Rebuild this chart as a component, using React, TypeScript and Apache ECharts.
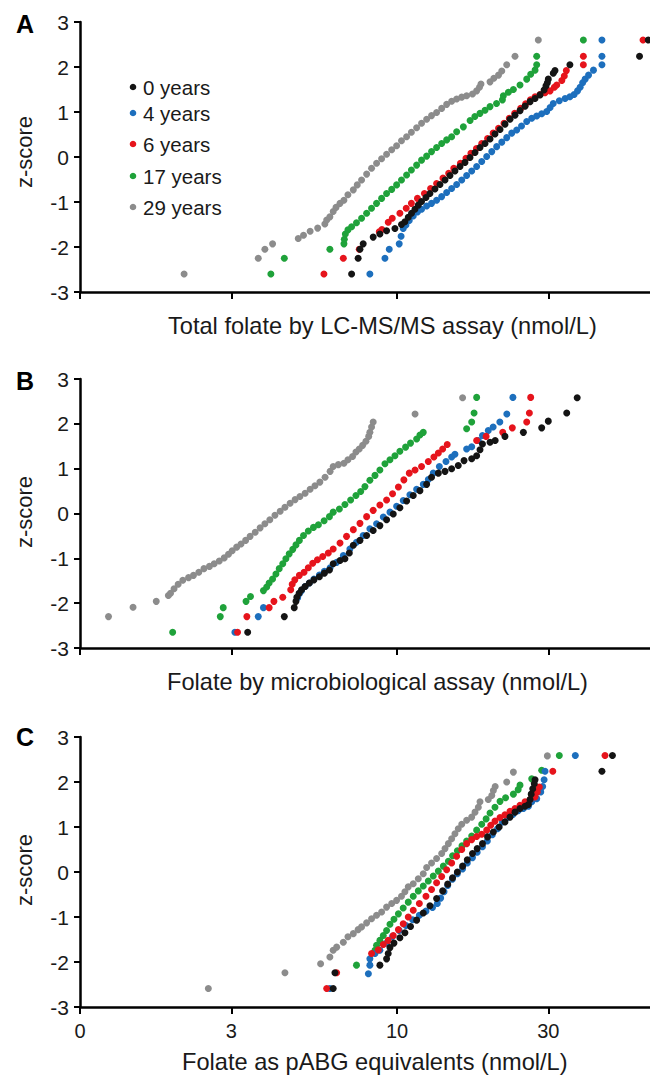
import React, { useEffect, useRef } from "react";
import * as echarts from "echarts";

type Pt = [number, number]; // [folate nmol/L, z-score]

const AGE_NAMES = ["0 years", "4 years", "6 years", "17 years", "29 years"];
const AGE_COLORS = ["#141414", "#1d6fbd", "#e6141c", "#1fa23a", "#8c8c8c"];
const X_TICKS = [1, 3, 10, 30];
const X_TICK_LABELS = ["0", "3", "10", "30"];
const X_MAX = 62.8;
const PANEL_LETTERS = ["A", "B", "C"];
const X_TITLES = [
  "Total folate by LC-MS/MS assay (nmol/L)",
  "Folate by microbiological assay (nmol/L)",
  "Folate as pABG equivalents (nmol/L)",
];
const Y_TITLE = "z-score";

// Panel A – LC-MS/MS
const A_0y: Pt[] = [[7.19,-2.6],[7.54,-2.25],[7.64,-2.05],[7.82,-1.93],[8.41,-1.78],[8.83,-1.71],[9.27,-1.64],[9.85,-1.59],[10.33,-1.5],[10.59,-1.44],[10.85,-1.34],[11.11,-1.25],[11.39,-1.16],[11.67,-1.07],[11.95,-0.99],[12.34,-0.9],[12.7,-0.81],[13.17,-0.71],[13.66,-0.61],[14.17,-0.51],[14.69,-0.41],[15.23,-0.31],[15.8,-0.21],[16.38,-0.12],[16.99,-0.01],[17.62,0.1],[18.27,0.21],[18.95,0.3],[19.65,0.4],[20.37,0.51],[21.13,0.61],[21.91,0.73],[22.72,0.84],[23.56,0.93],[24.43,1.03],[25.34,1.13],[26.28,1.23],[27.25,1.3],[28.26,1.38],[29.1,1.49],[29.5,1.58],[29.8,1.65],[30.0,1.73],[31.1,1.86],[31.5,1.92],[35.1,2.05],[58.2,2.24],[62.0,2.6]];
const A_4y: Pt[] = [[8.21,-2.6],[9.16,-2.25],[9.45,-2.05],[10.16,-1.93],[10.3,-1.76],[10.46,-1.59],[10.67,-1.51],[10.93,-1.41],[11.25,-1.31],[11.6,-1.22],[11.95,-1.16],[12.4,-1.09],[12.85,-1.03],[13.33,-0.96],[13.83,-0.88],[14.34,-0.79],[14.87,-0.7],[15.42,-0.61],[16.0,-0.51],[16.58,-0.41],[17.2,-0.31],[17.83,-0.21],[18.5,-0.1],[19.18,0.01],[19.9,0.12],[20.62,0.23],[21.4,0.33],[22.18,0.43],[23.0,0.53],[23.85,0.6],[24.7,0.69],[25.65,0.79],[26.6,0.86],[27.58,0.91],[28.6,0.96],[29.66,1.01],[30.4,1.1],[31.1,1.19],[32.5,1.25],[33.9,1.3],[35.1,1.34],[36.2,1.39],[37.1,1.47],[37.8,1.55],[38.5,1.65],[39.2,1.73],[40.2,1.82],[41.65,1.93],[44.3,2.05],[44.3,2.24],[44.3,2.6]];
const A_6y: Pt[] = [[5.88,-2.6],[6.77,-2.25],[7.6,-2.05],[8.79,-1.66],[8.96,-1.61],[9.38,-1.45],[9.66,-1.36],[10.21,-1.25],[10.69,-1.14],[11.1,-1.03],[11.6,-0.92],[12.2,-0.81],[12.76,-0.7],[13.33,-0.59],[13.96,-0.47],[14.55,-0.36],[15.1,-0.25],[15.85,-0.14],[16.5,-0.03],[17.1,0.08],[17.8,0.19],[18.5,0.3],[19.3,0.41],[20.1,0.53],[20.9,0.64],[21.75,0.75],[22.6,0.86],[23.5,0.97],[24.55,1.08],[25.45,1.18],[26.35,1.27],[27.25,1.34],[28.26,1.39],[29.3,1.43],[30.4,1.47],[31.35,1.55],[31.9,1.6],[33.1,1.7],[33.7,1.8],[34.2,1.92],[38.7,2.05],[38.7,2.24],[59.7,2.6]];
const A_17y: Pt[] = [[4.0,-2.6],[4.41,-2.25],[6.14,-2.05],[6.8,-1.93],[6.82,-1.83],[6.87,-1.71],[7.0,-1.62],[7.19,-1.55],[7.45,-1.46],[7.73,-1.36],[8.02,-1.25],[8.31,-1.14],[8.62,-1.03],[8.94,-0.92],[9.27,-0.81],[9.62,-0.72],[9.97,-0.62],[10.33,-0.51],[10.72,-0.4],[11.1,-0.29],[11.53,-0.18],[11.95,-0.07],[12.4,0.02],[12.85,0.12],[13.33,0.21],[13.83,0.3],[14.34,0.38],[14.87,0.45],[15.42,0.56],[16.19,0.67],[17.0,0.81],[17.6,0.9],[18.27,0.97],[18.95,1.04],[19.65,1.12],[20.6,1.19],[21.5,1.27],[21.65,1.36],[22.45,1.44],[23.28,1.5],[24.43,1.6],[25.65,1.73],[26.4,1.84],[27.25,1.93],[27.58,2.05],[27.58,2.24],[38.7,2.6]];
const A_29y: Pt[] = [[2.13,-2.6],[3.65,-2.25],[3.83,-2.05],[4.05,-1.93],[4.88,-1.81],[5.07,-1.74],[5.32,-1.65],[5.62,-1.58],[5.92,-1.49],[6.0,-1.4],[6.14,-1.33],[6.29,-1.21],[6.42,-1.12],[6.61,-1.03],[6.8,-0.96],[7.0,-0.84],[7.28,-0.73],[7.49,-0.62],[7.73,-0.51],[8.02,-0.38],[8.31,-0.25],[8.62,-0.14],[8.94,-0.04],[9.27,0.06],[9.62,0.16],[9.97,0.25],[10.33,0.36],[10.72,0.45],[11.1,0.55],[11.53,0.65],[11.95,0.75],[12.4,0.84],[12.85,0.92],[13.33,0.99],[13.83,1.08],[14.34,1.17],[14.87,1.24],[15.42,1.29],[16.0,1.33],[16.58,1.36],[17.3,1.4],[17.83,1.47],[18.2,1.55],[18.4,1.62],[19.65,1.67],[20.2,1.75],[20.9,1.82],[21.4,1.91],[22.18,2.05],[23.56,2.24],[27.9,2.6]];

// Panel B – microbiological assay
const B_0y: Pt[] = [[3.38,-2.65],[4.41,-2.3],[4.74,-2.1],[4.8,-1.96],[4.83,-1.87],[4.91,-1.78],[5.0,-1.7],[5.13,-1.63],[5.29,-1.55],[5.47,-1.48],[5.69,-1.41],[5.9,-1.33],[6.12,-1.26],[6.29,-1.12],[6.61,-1.05],[6.85,-1.01],[7.07,-0.88],[7.28,-0.71],[7.64,-0.6],[8.02,-0.49],[8.41,-0.38],[8.83,-0.27],[9.27,-0.14],[9.73,-0.01],[10.21,0.13],[10.72,0.28],[11.25,0.4],[11.81,0.51],[12.4,0.65],[12.85,0.81],[13.5,0.9],[14.17,0.94],[14.87,1.0],[15.6,1.07],[16.27,1.18],[17.2,1.22],[17.83,1.29],[18.27,1.42],[18.6,1.55],[19.65,1.59],[20.4,1.63],[21.9,1.72],[25.03,1.81],[28.6,1.91],[30.0,2.06],[34.3,2.24],[37.0,2.58]];
const B_4y: Pt[] = [[3.08,-2.65],[3.65,-2.3],[3.79,-2.1],[4.86,-1.88],[4.92,-1.79],[5.0,-1.72],[5.13,-1.63],[5.29,-1.55],[5.47,-1.46],[5.69,-1.37],[5.9,-1.29],[6.15,-1.21],[6.45,-1.09],[6.77,-0.94],[7.1,-0.79],[7.45,-0.64],[7.82,-0.49],[8.21,-0.34],[8.62,-0.23],[9.05,-0.08],[9.5,0.03],[9.97,0.16],[10.46,0.29],[10.98,0.42],[11.53,0.54],[12.1,0.65],[12.55,0.76],[13.01,0.9],[13.6,1.05],[14.27,1.16],[14.87,1.26],[15.23,1.32],[16.58,1.44],[17.2,1.49],[18.05,1.63],[18.6,1.74],[19.4,1.85],[20.1,1.93],[21.1,2.04],[22.2,2.22],[23.2,2.59]];
const B_6y: Pt[] = [[3.14,-2.65],[3.36,-2.3],[3.95,-2.1],[4.09,-1.96],[4.36,-1.87],[4.62,-1.7],[4.67,-1.58],[4.76,-1.48],[4.92,-1.38],[5.09,-1.31],[5.25,-1.21],[5.42,-1.11],[5.61,-1.03],[5.83,-0.96],[6.07,-0.88],[6.29,-0.79],[6.61,-0.66],[6.93,-0.51],[7.28,-0.36],[7.64,-0.22],[8.02,-0.07],[8.41,0.07],[8.83,0.19],[9.27,0.3],[9.68,0.44],[10.1,0.59],[10.51,0.75],[10.93,0.9],[11.4,0.97],[11.95,1.05],[12.55,1.16],[13.07,1.26],[13.5,1.35],[13.93,1.44],[14.4,1.54],[17.83,1.63],[19.1,1.72],[21.55,1.81],[23.1,1.91],[25.65,2.04],[26.15,2.24],[26.4,2.59]];
const B_17y: Pt[] = [[1.96,-2.65],[2.77,-2.3],[2.83,-2.1],[3.34,-1.96],[3.45,-1.85],[3.79,-1.72],[3.88,-1.64],[3.95,-1.55],[4.05,-1.46],[4.15,-1.35],[4.25,-1.23],[4.36,-1.12],[4.46,-1.01],[4.57,-0.9],[4.69,-0.8],[4.8,-0.7],[4.92,-0.6],[5.07,-0.49],[5.25,-0.39],[5.45,-0.31],[5.65,-0.25],[5.89,-0.16],[6.12,-0.07],[6.29,0.03],[6.58,0.1],[6.85,0.2],[7.14,0.3],[7.42,0.4],[7.68,0.49],[7.92,0.6],[8.21,0.74],[8.52,0.85],[8.83,0.97],[9.16,1.11],[9.5,1.2],[9.85,1.29],[10.21,1.39],[10.64,1.48],[11.03,1.57],[11.53,1.66],[11.81,1.75],[12.1,1.81],[16.58,1.89],[17.2,2.04],[17.5,2.24],[17.83,2.59]];
const B_29y: Pt[] = [[1.23,-2.3],[1.47,-2.09],[1.74,-1.96],[1.9,-1.83],[1.93,-1.78],[1.98,-1.68],[2.04,-1.58],[2.11,-1.49],[2.2,-1.43],[2.28,-1.38],[2.37,-1.31],[2.46,-1.23],[2.56,-1.18],[2.65,-1.12],[2.75,-1.06],[2.85,-0.99],[2.94,-0.91],[3.02,-0.83],[3.12,-0.75],[3.22,-0.68],[3.33,-0.6],[3.44,-0.51],[3.57,-0.42],[3.7,-0.32],[3.83,-0.23],[3.97,-0.14],[4.12,-0.04],[4.28,0.05],[4.43,0.14],[4.6,0.23],[4.77,0.31],[4.94,0.38],[5.13,0.45],[5.32,0.54],[5.51,0.62],[5.71,0.7],[5.93,0.81],[6.15,0.94],[6.29,1.05],[6.53,1.09],[6.8,1.12],[7.0,1.2],[7.24,1.27],[7.42,1.37],[7.6,1.44],[7.79,1.52],[7.98,1.61],[8.14,1.72],[8.21,1.81],[8.31,1.93],[8.41,2.04],[11.4,2.22],[16.1,2.58]];

// Panel C – pABG equivalents
const C_0y: Pt[] = [[6.29,-2.59],[6.37,-2.24],[8.83,-2.07],[9.27,-1.93],[9.38,-1.81],[9.5,-1.68],[9.78,-1.58],[10.21,-1.46],[10.59,-1.35],[11.03,-1.21],[11.53,-1.07],[12.1,-0.91],[12.7,-0.75],[13.33,-0.59],[13.93,-0.42],[14.45,-0.27],[14.97,-0.13],[15.5,0.0],[16.1,0.13],[16.66,0.27],[17.3,0.41],[17.9,0.52],[18.6,0.63],[19.3,0.78],[20.13,0.89],[21.0,1.0],[21.9,1.11],[22.72,1.22],[23.56,1.33],[24.43,1.41],[25.34,1.46],[25.97,1.5],[26.28,1.61],[26.5,1.73],[26.8,1.85],[27.1,1.96],[27.25,2.05],[44.3,2.24],[47.8,2.59]];
const C_4y: Pt[] = [[6.14,-2.59],[8.12,-2.26],[8.21,-2.07],[8.21,-1.93],[8.52,-1.81],[8.83,-1.74],[9.27,-1.58],[9.68,-1.43],[10.16,-1.3],[10.67,-1.19],[11.2,-1.06],[11.76,-0.96],[12.34,-0.87],[12.94,-0.79],[13.4,-0.7],[13.73,-0.58],[14.07,-0.44],[14.45,-0.3],[14.95,-0.16],[15.5,-0.04],[16.1,0.07],[16.66,0.2],[17.3,0.32],[17.9,0.44],[18.6,0.56],[19.27,0.69],[19.98,0.83],[20.75,0.96],[21.5,1.11],[22.3,1.21],[23.2,1.28],[24.1,1.36],[25.03,1.41],[25.97,1.46],[26.6,1.56],[27.58,1.63],[28.4,1.78],[28.8,1.9],[29.1,2.05],[29.3,2.24],[36.5,2.59]];
const C_6y: Pt[] = [[6.0,-2.59],[6.45,-2.24],[8.31,-1.81],[8.73,-1.73],[9.05,-1.61],[9.38,-1.52],[9.73,-1.41],[10.1,-1.28],[10.46,-1.15],[10.85,-1.0],[11.25,-0.85],[11.76,-0.7],[12.34,-0.54],[12.85,-0.39],[13.33,-0.24],[13.83,-0.1],[14.34,0.05],[14.87,0.2],[15.42,0.35],[16.0,0.5],[16.58,0.63],[17.2,0.72],[17.83,0.79],[18.5,0.84],[19.18,0.93],[19.75,1.04],[20.37,1.13],[21.13,1.21],[21.9,1.27],[22.72,1.35],[23.56,1.41],[24.43,1.48],[25.34,1.56],[26.28,1.61],[27.25,1.67],[27.7,1.78],[28.1,1.89],[31.0,2.24],[45.3,2.59]];
const C_17y: Pt[] = [[7.45,-2.07],[8.52,-1.74],[8.62,-1.63],[8.83,-1.52],[9.05,-1.41],[9.27,-1.3],[9.5,-1.16],[9.78,-1.05],[10.1,-0.93],[10.46,-0.8],[10.85,-0.67],[11.25,-0.54],[11.67,-0.42],[12.1,-0.31],[12.55,-0.2],[13.01,-0.09],[13.5,0.02],[14.0,0.13],[14.52,0.24],[14.97,0.36],[15.5,0.47],[16.03,0.58],[16.58,0.69],[17.2,0.8],[17.83,0.93],[18.5,1.06],[19.1,1.18],[19.65,1.31],[20.37,1.44],[21.13,1.57],[22.0,1.65],[23.28,1.73],[24.1,1.83],[24.43,1.93],[26.6,2.07],[28.6,2.26],[32.5,2.59]];
const C_29y: Pt[] = [[2.54,-2.59],[4.43,-2.24],[5.74,-2.04],[6.14,-1.89],[6.29,-1.74],[6.45,-1.67],[6.77,-1.56],[7.0,-1.44],[7.28,-1.37],[7.54,-1.28],[7.73,-1.22],[8.02,-1.13],[8.31,-1.04],[8.62,-0.96],[8.94,-0.89],[9.27,-0.78],[9.62,-0.7],[9.97,-0.63],[10.33,-0.54],[10.59,-0.44],[10.85,-0.33],[11.25,-0.26],[11.67,-0.15],[12.1,-0.04],[12.4,0.1],[12.85,0.2],[13.33,0.3],[13.83,0.41],[14.17,0.52],[14.52,0.63],[14.87,0.74],[15.23,0.85],[15.6,0.96],[16.0,1.06],[16.58,1.15],[17.2,1.22],[17.62,1.33],[18.05,1.44],[18.27,1.56],[19.4,1.61],[19.9,1.7],[20.13,1.81],[20.4,1.9],[22.18,2.0],[23.28,2.22],[29.8,2.58]];

const PANELS: Pt[][][] = [
  [A_0y, A_4y, A_6y, A_17y, A_29y],
  [B_0y, B_4y, B_6y, B_17y, B_29y],
  [C_0y, C_4y, C_6y, C_17y, C_29y],
];

const FONT = "'Liberation Sans', Arial, Helvetica, sans-serif";
const TEXT = "#1a1a1a";

export default function App() {
  const ref = useRef<HTMLDivElement>(null);

  useEffect(() => {
    if (!ref.current) return;
    const chart = echarts.init(ref.current, undefined, { renderer: "svg" });

    const grids = [
      { left: 80, top: 22, width: 570, height: 270 },
      { left: 80, top: 379, width: 570, height: 269 },
      { left: 80, top: 737, width: 570, height: 270 },
    ];
    const logTicks = X_TICKS.map((t) => Math.log10(t));
    const fmtX = (v: number) => {
      const i = logTicks.findIndex((t) => Math.abs(t - v) < 1e-6);
      return i >= 0 ? X_TICK_LABELS[i] : "";
    };

    const xAxis = grids.map((_, i) => ({
      gridIndex: i,
      type: "value",
      min: 0,
      max: Math.log10(X_MAX),
      axisLine: { show: true, onZero: false, lineStyle: { color: "#000", width: 2.5 } },
      axisTick: {
        show: true,
        inside: false,
        length: 7,
        customValues: logTicks,
        lineStyle: { color: "#000", width: 2 },
      },
      axisLabel: {
        show: i === 2,
        customValues: logTicks,
        formatter: fmtX,
        fontSize: 20,
        color: TEXT,
        fontFamily: FONT,
        margin: 14,
      },
      splitLine: { show: false },
    }));

    const yAxis = grids.map((_, i) => ({
      gridIndex: i,
      type: "value",
      min: -3,
      max: 3,
      interval: 1,
      axisLine: { show: true, onZero: false, lineStyle: { color: "#000", width: 2.5 } },
      axisTick: { show: true, length: 6, lineStyle: { color: "#000", width: 2 } },
      axisLabel: { fontSize: 21, color: TEXT, fontFamily: FONT, margin: 11 },
      splitLine: { show: false },
    }));

    const drawOrder = [4, 3, 1, 2, 0];
    const series: any[] = [];
    PANELS.forEach((panel, p) => {
      drawOrder.forEach((k) => {
        series.push({
          type: "scatter",
          name: AGE_NAMES[k],
          xAxisIndex: p,
          yAxisIndex: p,
          symbol: "circle",
          symbolSize: 7,
          clip: false,
          itemStyle: { color: AGE_COLORS[k], opacity: 1 },
          data: panel[k].map(([v, z]) => [Math.log10(v), z]),
        });
      });
    });

    const letterY = [24, 381, 737];
    const yTitleY = [152, 512, 870];
    const xTitles = [
      { x: 168, y: 326 },
      { x: 167, y: 682 },
      { x: 182, y: 1062 },
    ];
    const legendY = [87, 113, 144, 176, 207];

    const graphic: any[] = [];
    PANEL_LETTERS.forEach((L, i) => {
      graphic.push({
        type: "text",
        x: 16,
        y: letterY[i],
        style: { text: L, fontSize: 25, fontWeight: "bold", fill: "#000", fontFamily: FONT, align: "left", verticalAlign: "middle" },
      });
      graphic.push({
        type: "text",
        x: 24,
        y: yTitleY[i],
        rotation: Math.PI / 2,
        style: { text: Y_TITLE, fontSize: 22, fill: TEXT, fontFamily: FONT, align: "center", verticalAlign: "middle" },
      });
      graphic.push({
        type: "text",
        x: xTitles[i].x,
        y: xTitles[i].y,
        style: { text: X_TITLES[i], fontSize: 23.6, fill: TEXT, fontFamily: FONT, align: "left", verticalAlign: "middle" },
      });
    });
    AGE_NAMES.forEach((name, k) => {
      graphic.push({
        type: "circle",
        shape: { cx: 133, cy: legendY[k], r: 3.3 },
        style: { fill: AGE_COLORS[k] },
      });
      graphic.push({
        type: "text",
        x: 143,
        y: legendY[k],
        style: { text: name, fontSize: 20.5, fill: TEXT, fontFamily: FONT, align: "left", verticalAlign: "middle" },
      });
    });

    chart.setOption({
      animation: false,
      backgroundColor: "#ffffff",
      textStyle: { fontFamily: FONT },
      grid: grids,
      xAxis,
      yAxis,
      series,
      graphic,
    });

    return () => chart.dispose();
  }, []);

  return (
    <div
      ref={ref}
      style={{ position: "absolute", left: 0, top: 0, width: 650, height: 1076, background: "#fff" }}
    />
  );
}
